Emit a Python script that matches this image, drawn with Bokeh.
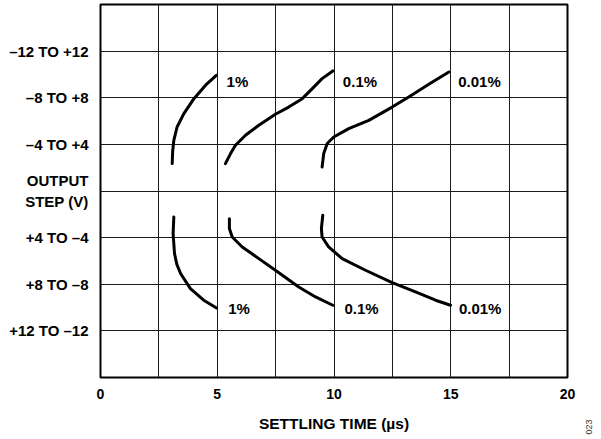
from math import pi
from bokeh.plotting import figure
from bokeh.models import FixedTicker, Label, Range1d, ColumnDataSource
from bokeh.core.properties import value
from bokeh.embed import file_html
from bokeh.resources import INLINE

# ---- data (settling time in us vs output step, V; lower half = negative steps) ----
t_1pct_up = [3.07, 3.09, 3.14, 3.28, 3.57, 4.00, 4.50, 4.96]
v_1pct_up = [2.35, 3.40, 4.35, 5.49, 6.64, 7.92, 9.08, 9.92]

t_01pct_up = [5.35, 5.57, 5.78, 6.21, 6.78, 7.49, 8.06, 8.64, 9.07, 9.49, 9.95]
v_01pct_up = [2.35, 3.21, 3.92, 4.78, 5.64, 6.58, 7.20, 7.92, 8.78, 9.64, 10.3]

t_001pct_up = [9.49, 9.56, 9.71, 9.99, 10.63, 11.49, 12.49, 13.2, 14.06, 14.92]
v_001pct_up = [2.06, 3.21, 4.07, 4.63, 5.35, 6.06, 7.20, 8.06, 9.15, 10.21]

t_1pct_dn = [3.14, 3.11, 3.17, 3.27, 3.43, 3.85, 4.42, 4.97]
v_1pct_dn = [-2.23, -3.65, -5.37, -6.30, -7.08, -8.37, -9.37, -10.03]

t_01pct_dn = [5.52, 5.52, 5.64, 6.07, 6.78, 7.49, 8.49, 9.21, 9.95]
v_01pct_dn = [-2.37, -3.22, -3.95, -4.80, -5.80, -6.80, -8.23, -9.09, -9.80]

t_001pct_dn = [9.52, 9.46, 9.49, 9.77, 10.35, 11.35, 12.49, 13.49, 14.35, 14.99]
v_001pct_dn = [-2.08, -3.22, -3.95, -4.80, -5.80, -6.80, -7.86, -8.66, -9.37, -9.80]

label_x = [5.40, 10.38, 15.32, 5.47, 10.45, 15.35]
label_y = [9.43, 9.43, 9.43, -10.09, -10.09, -10.09]
label_text = ["1%", "0.1%", "0.01%", "1%", "0.1%", "0.01%"]

x_ticks = [0, 5, 10, 15, 20]
x_grid = [2.5, 5, 7.5, 10, 12.5, 15, 17.5]
y_ticks = [-12, -8, -4, 0, 4, 8, 12]
y_tick_labels = ["+12 TO \u201312", "+8 TO \u20138", "+4 TO \u20134", "OUTPUT\nSTEP (V)",
                 "\u20134 TO +4", "\u20138 TO +8", "\u201312 TO +12"]

FONT = "Liberation Sans"

p = figure(frame_width=467, frame_height=373,
           x_range=Range1d(0, 20), y_range=Range1d(-16, 16),
           output_backend="svg", toolbar_location=None,
           min_border_left=100, min_border_right=31, min_border_top=4, min_border_bottom=60)

p.outline_line_color = "black"
p.outline_line_width = 2
p.background_fill_color = "white"
p.border_fill_color = "white"

p.xgrid.ticker = FixedTicker(ticks=x_grid)
p.ygrid.ticker = FixedTicker(ticks=y_ticks)
for g in (p.xgrid, p.ygrid):
    g.grid_line_color = "#1a1a1a"
    g.grid_line_width = 1
    g.grid_line_alpha = 1

for ax in (p.xaxis, p.yaxis):
    ax.axis_line_color = None
    ax.major_tick_line_color = None
    ax.minor_tick_line_color = None
    ax.major_label_text_font = FONT
    ax.major_label_text_font_style = "bold"
    ax.major_label_text_color = "black"

p.xaxis.ticker = FixedTicker(ticks=x_ticks)
p.xaxis.major_label_text_font_size = "14px"
p.xaxis.major_label_standoff = 5
p.xaxis.axis_label = "SETTLING TIME (\u00b5s)"
p.xaxis.axis_label_text_font = FONT
p.xaxis.axis_label_text_font_style = "bold"
p.xaxis.axis_label_text_font_size = "15.5px"
p.xaxis.axis_label_text_color = "black"
p.xaxis.axis_label_standoff = 13

p.yaxis.ticker = FixedTicker(ticks=y_ticks)
p.yaxis.major_label_text_font_size = "15px"
p.yaxis.major_label_overrides = {t: s for t, s in zip(y_ticks, y_tick_labels)}
p.yaxis.major_label_standoff = 6

curves = [(t_1pct_up, v_1pct_up), (t_01pct_up, v_01pct_up), (t_001pct_up, v_001pct_up),
          (t_1pct_dn, v_1pct_dn), (t_01pct_dn, v_01pct_dn), (t_001pct_dn, v_001pct_dn)]
for t, v in curves:
    p.line(t, v, line_color="black", line_width=3, line_cap="round", line_join="round")

src = ColumnDataSource(dict(x=label_x, y=label_y, text=label_text))
p.text(x="x", y="y", text="text", source=src, text_font=value(FONT),
       text_font_style="bold", text_font_size="15px", text_color="black",
       text_align="left", text_baseline="middle")

# figure number, placed in the right-hand border panel
p.add_layout(Label(x=21, y=-57, x_units="screen", y_units="screen", text="023",
                   angle=pi / 2, text_font=FONT, text_font_size="9px",
                   text_color="#333333", text_align="left", text_baseline="middle"), "right")

open("out.html", "w").write(file_html(p, INLINE))
